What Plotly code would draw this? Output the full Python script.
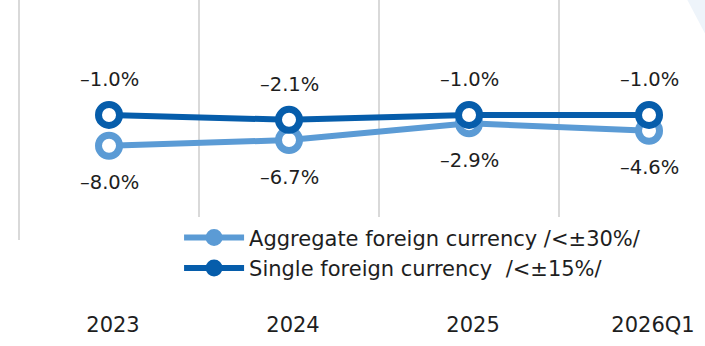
import plotly.graph_objects as go

categories = ["2023", "2024", "2025", "2026Q1"]
aggregate = [-8.0, -6.7, -2.9, -4.6]
single = [-1.0, -2.1, -1.0, -1.0]
series_names = ["Aggregate foreign currency /<±30%/", "Single foreign currency  /<±15%/"]

LIGHT = "#5B9BD5"
DARK = "#065DAB"
TEXT = "#1E1E1E"
FONT = "DejaVu Sans"

xs = list(range(len(categories)))
series = [(aggregate, LIGHT, series_names[0]), (single, DARK, series_names[1])]

fig = go.Figure()
# plotted lines with ring markers
for vals, col, name in series:
    fig.add_trace(go.Scatter(
        x=xs, y=vals, name=name, mode="lines+markers", showlegend=False,
        line=dict(color=col, width=6),
        marker=dict(size=21, color="white", line=dict(color=col, width=7)),
    ))
# legend entries use a smaller, solid marker
for vals, col, name in series:
    fig.add_trace(go.Scatter(
        x=[None], y=[None], name=name, mode="lines+markers",
        line=dict(color=col, width=6),
        marker=dict(size=15, color=col, line=dict(color=col, width=2)),
    ))


def fmt(v):
    return ("\u2013" if v < 0 else "") + f"{abs(v):.1f}%"


label_font = dict(size=19.5, color=TEXT, family=FONT)
annotations = []
for i, v in enumerate(single):
    annotations.append(dict(x=xs[i], y=v, text=fmt(v), showarrow=False, yshift=35,
                            font=label_font))
for i, v in enumerate(aggregate):
    annotations.append(dict(x=xs[i], y=v, text=fmt(v), showarrow=False, yshift=-37,
                            font=label_font))

fig.update_layout(
    width=705, height=346,
    margin=dict(l=0, r=0, t=0, b=106),
    paper_bgcolor="white", plot_bgcolor="white",
    font=dict(family=FONT, color=TEXT),
    showlegend=True,
    legend=dict(x=0.254, y=0.094, xanchor="left", yanchor="top",
                bgcolor="white", font=dict(size=21, color=TEXT, family=FONT),
                itemwidth=60, traceorder="normal"),
    annotations=annotations,
    xaxis=dict(
        range=[-0.6056, 3.311], tickmode="array", tickvals=xs, ticktext=categories,
        showgrid=False, zeroline=False, showline=False, ticks="",
        tickfont=dict(size=21, color=TEXT, family=FONT),
        ticklabelstandoff=70, ticklabelshift=4,
        minor=dict(tickmode="array", tickvals=[-0.5, 0.5, 1.5, 2.5, 3.5],
                   showgrid=True, gridcolor="#D9D9D9", gridwidth=2, ticks=""),
    ),
    yaxis=dict(range=[-29.4, 25.1], showgrid=False, zeroline=False,
               showticklabels=False, showline=False, ticks=""),
    shapes=[dict(type="path", xref="paper", yref="paper", layer="below",
                 path="M 0.975 1 L 1 1 L 1 0.86 Z", fillcolor="#EEF4FA", line=dict(width=0))],
)

fig.write_html("out.html")
